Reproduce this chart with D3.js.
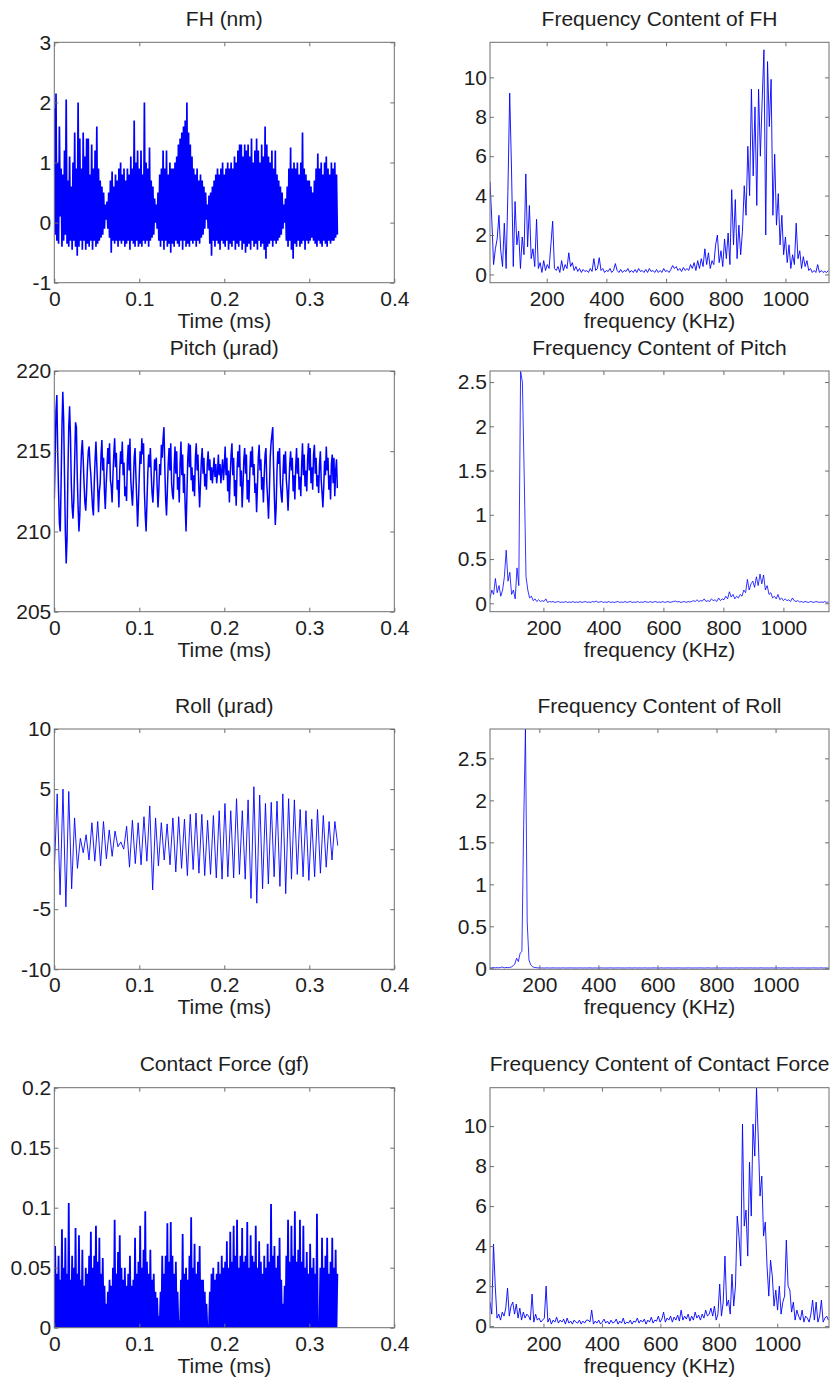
<!DOCTYPE html>
<html>
<head>
<meta charset="utf-8">
<script src="https://cdn.jsdelivr.net/npm/d3@7"></script>
<style>
  body { margin: 0; background: #fff; }
  svg { display: block; font-family: "Liberation Sans", Arial, sans-serif; }
  .box { fill: none; stroke: #6e6e6e; stroke-width: 1; }
  .axis line { stroke: #6e6e6e; }
  .axis path { display: none; }
  .axis text { font-size: 21px; fill: #1e1e1e; font-family: "Liberation Sans", Arial, sans-serif; }
  .label { font-size: 21px; fill: #1e1e1e; text-anchor: middle; }
  .trace { fill: none; stroke: #0000ff; stroke-linejoin: bevel; }
</style>
</head>
<body>
<svg id="chart" width="834" height="1381"></svg>
<script>
/* ---------- data ---------- */

const TIME_TICKS = [0, 0.1, 0.2, 0.3, 0.4];
const FREQ_TICKS = [200, 400, 600, 800, 1000];
const TIME_STEP = 0.001;          // ms between samples
const SPEC_STEP = 6;              // KHz between spectrum bins

// FH (nm)
const FH = [
  1.9,-0.2,2.15,-0.3,1.0,-0.35,1.6,0.1,0.9,-0.4,
  0.8,-0.3,1.2,-0.2,2.05,-0.35,0.7,-0.4,1.1,-0.3,
  0.6,-0.45,1.0,-0.3,1.5,-0.4,0.9,-0.55,2.0,-0.4,
  1.4,-0.3,0.9,-0.45,1.5,-0.3,1.1,-0.45,1.4,-0.35,
  1.4,-0.4,0.8,-0.3,1.3,-0.45,0.9,-0.3,1.2,-0.4,
  1.6,-0.35,0.9,-0.3,0.7,-0.25,0.6,-0.2,0.5,-0.1,
  0.3,0.05,0.35,-0.1,0.5,-0.25,0.7,-0.5,0.85,-0.3,
  0.6,-0.35,0.8,-0.3,0.7,-0.4,0.9,-0.3,1.0,-0.35,
  0.8,-0.3,0.9,-0.4,0.7,-0.35,0.9,-0.3,0.8,-0.45,
  1.1,-0.3,0.9,-0.35,1.7,-0.4,1.0,-0.3,1.2,-0.4,
  0.9,-0.35,1.2,-0.4,0.8,-0.3,2.0,-0.35,1.0,-0.3,
  0.9,-0.4,1.25,-0.3,0.7,-0.25,0.6,-0.2,0.4,0.0,
  0.3,-0.1,0.5,-0.3,0.8,-0.4,0.9,-0.3,1.2,-0.45,
  0.9,-0.3,1.2,-0.4,0.8,-0.35,1.0,-0.5,0.9,-0.35,
  0.9,-0.4,1.0,-0.3,1.1,-0.35,1.3,-0.4,1.4,-0.3,
  1.5,-0.45,1.6,-0.3,1.7,-0.4,2.0,-0.35,1.5,-0.4,
  1.3,-0.3,1.1,-0.35,0.9,-0.3,0.8,-0.4,0.9,-0.3,
  0.7,-0.35,0.8,-0.25,0.7,-0.2,0.6,-0.1,0.5,0.05,
  0.3,-0.1,0.45,-0.35,0.5,-0.55,0.6,-0.3,0.7,-0.4,
  0.8,-0.3,0.9,-0.35,0.8,-0.45,0.9,-0.3,1.0,-0.35,
  0.8,-0.4,0.9,-0.3,1.0,-0.45,0.9,-0.35,1.0,-0.4,
  0.9,-0.3,1.1,-0.45,1.0,-0.35,1.2,-0.4,1.3,-0.3,
  1.3,-0.45,1.1,-0.35,1.3,-0.5,1.2,-0.4,1.3,-0.35,
  1.1,-0.45,1.4,-0.3,1.0,-0.4,1.2,-0.35,1.4,-0.45,
  1.2,-0.3,1.0,-0.4,1.3,-0.35,1.1,-0.45,1.6,-0.6,
  1.3,-0.4,1.1,-0.35,1.0,-0.3,1.2,-0.4,0.9,-0.3,
  1.2,-0.35,0.8,-0.3,0.7,-0.25,0.6,-0.2,0.5,-0.1,
  0.3,0.0,0.4,-0.3,0.6,-0.4,0.9,-0.3,1.25,-0.45,
  0.9,-0.6,1.0,-0.35,0.9,-0.4,1.0,-0.3,0.8,-0.4,
  1.0,-0.35,1.5,-0.3,0.9,-0.45,0.8,-0.3,0.7,-0.35,
  0.7,-0.3,0.6,-0.25,0.5,-0.3,0.7,-0.35,0.9,-0.4,
  1.15,-0.3,0.9,-0.35,1.0,-0.4,0.8,-0.3,1.0,-0.35,
  1.1,-0.4,0.9,-0.3,0.8,-0.35,1.0,-0.3,0.9,-0.3,
  1.0,-0.25,0.8,-0.2
];

// Pitch (µrad)
const PITCH = [
  212.0,214.5,217.5,218.5,215.0,212.5,210.5,210.0,
  213.0,216.5,218.7,217.0,213.5,210.0,208.0,209.5,
  213.5,216.5,217.8,216.0,213.0,211.5,210.8,212.0,
  214.5,216.8,216.5,213.5,211.5,210.0,211.0,213.5,
  215.0,215.7,214.5,213.0,211.8,211.3,212.5,214.0,
  215.0,215.3,214.2,213.5,212.5,211.5,211.0,213.0,
  214.5,215.6,214.2,212.8,211.2,212.5,213.0,214.8,
  215.7,213.8,214.6,212.5,211.4,212.9,214.0,215.2,
  214.2,215.5,213.2,212.8,211.8,213.5,214.8,215.8,
  214.0,214.9,212.6,213.2,211.5,213.8,215.0,214.2,
  215.6,213.5,214.3,212.2,212.8,211.9,214.4,215.4,
  213.8,215.8,213.2,212.3,211.6,213.0,214.6,215.2,
  213.5,212.0,210.3,211.8,213.5,215.0,214.2,215.8,
  214.8,215.5,212.5,211.0,210.0,211.8,213.6,214.8,
  214.0,215.2,213.6,212.4,211.8,213.0,214.5,213.8,
  214.6,212.8,211.5,212.6,214.2,213.5,215.4,214.6,
  215.8,216.5,214.0,212.0,211.0,212.5,214.2,215.2,
  213.8,215.5,213.0,212.3,212.0,214.0,215.3,213.6,
  215.0,212.6,213.4,211.8,214.2,215.6,213.5,214.8,
  212.4,213.6,211.5,210.0,212.2,214.5,215.5,214.0,
  215.4,213.2,214.0,212.5,213.5,212.2,214.6,215.5,
  213.8,214.8,212.8,211.5,213.0,214.4,215.2,213.6,
  214.6,212.8,213.6,212.6,214.2,215.0,213.8,214.5,
  213.2,214.0,213.0,213.8,214.6,213.4,214.2,213.0,
  213.6,214.8,213.5,214.2,213.0,213.8,214.5,213.2,
  214.0,215.3,213.5,214.6,212.5,213.8,211.8,213.5,
  214.8,215.5,213.5,214.6,212.2,213.2,211.6,213.8,
  215.0,214.0,215.4,212.8,213.8,211.5,212.8,214.5,
  215.2,213.6,214.8,212.0,213.2,211.8,213.6,215.0,
  214.0,215.3,213.5,214.2,212.4,213.0,211.2,212.8,
  214.6,215.4,213.8,214.5,212.6,213.4,211.8,213.5,
  214.8,215.2,213.0,212.0,210.8,212.4,214.6,215.5,
  216.0,216.5,214.0,212.0,210.4,211.5,213.8,215.0,
  214.2,215.2,213.0,212.2,211.8,213.5,214.8,213.6,
  215.0,213.2,212.5,211.3,212.8,214.2,215.0,213.8,
  214.6,212.5,213.5,212.0,214.0,215.2,213.6,214.6,
  212.6,213.4,212.2,214.2,215.5,213.5,214.8,212.8,
  213.8,212.5,214.5,215.5,213.8,215.2,213.0,214.0,
  212.6,214.8,215.4,213.6,214.6,212.8,213.5,212.4,
  214.2,215.0,213.2,212.4,211.5,212.8,214.4,213.5,
  215.3,213.8,214.6,212.6,213.5,212.0,214.2,214.8,
  213.0,214.6,212.2,213.8,214.5,212.7
];

// Roll (µrad): successive troughs and crests
const ROLL_STEP = 0.3335 / 98;
const ROLL = [
  -1.8,4.6,-3.8,5.0,-4.8,4.8,-3.3,2.6,-1.6,0.9,
  -0.3,1.2,-0.9,2.2,-1.0,2.3,-1.4,2.3,-0.8,1.6,
  -0.6,1.5,0.2,0.6,0.0,1.9,-1.5,2.4,-1.2,2.2,
  -1.3,2.7,-1.0,3.6,-3.4,2.6,-1.4,2.2,-0.9,2.1,
  -1.3,2.6,-1.9,2.7,-1.6,2.5,-2.2,2.9,-1.7,3.0,
  -2.0,2.9,-2.2,2.4,-2.1,2.8,-2.4,3.2,-2.5,3.8,
  -2.3,3.2,-2.4,4.2,-2.1,3.2,-2.5,4.1,-4.1,5.2,
  -4.5,4.5,-3.3,3.8,-2.9,3.9,-2.3,4.0,-3.1,4.6,
  -3.7,4.2,-2.5,4.1,-2.1,3.3,-2.3,3.2,-2.6,2.5,
  -2.3,3.3,-2.0,2.8,-1.5,2.3,-0.9,2.3,0.3
];

// Contact Force (gf)
const FORCE = [
  0,0.068,0,0.045,0,0.06,0,0.04,0,0.082,0,0.05,0,0.075,0,0.045,0,0.104,0,0.04,
  0,0.06,0,0.05,0,0.083,0,0.045,0,0.077,0,0.04,0,0.065,0,0.035,0,0.05,0,0.045,
  0,0.06,0,0.08,0,0.05,0,0.06,0,0.085,0,0.055,0,0.075,0,0.045,0,0.058,0,0.035,
  0,0.02,0,0.03,0,0.04,0,0.035,0,0.05,0,0.09,0,0.045,0,0.063,0,0.077,0,0.05,
  0,0.04,0,0.05,0,0.035,0,0.045,0,0.06,0,0.035,0,0.04,0,0.075,0,0.045,0,0.055,
  0,0.085,0,0.05,0,0.065,0,0.097,0,0.055,0,0.045,0,0.065,0,0.04,0,0.045,0,0.03,
  0,0.025,0,0.01,0,0.03,0,0.06,0,0.045,0,0.06,0,0.087,0,0.055,0,0.088,0,0.06,
  0,0.045,0,0.055,0,0.03,0,0.006,0,0.04,0,0.078,0,0.045,0,0.05,0,0.04,0,0.06,
  0,0.092,0,0.05,0,0.07,0,0.045,0,0.055,0,0.068,0,0.04,0,0.04,0,0.03,0,0.02,
  0,0,0,0.03,0,0.045,0,0.05,0,0.04,0,0.045,0,0.055,0,0.045,0,0.06,0,0.05,
  0,0.055,0,0.072,0,0.05,0,0.08,0,0.055,0,0.085,0,0.06,0,0.09,0,0.05,0,0.06,
  0,0.083,0,0.055,0,0.06,0,0.088,0,0.05,0,0.077,0,0.06,0,0.055,0,0.085,0,0.05,
  0,0.072,0,0.055,0,0.045,0,0.06,0,0.05,0,0.07,0,0.055,0,0.103,0,0.06,0,0.068,
  0,0.05,0,0.06,0,0.075,0,0.04,0,0.02,0,0.035,0,0.06,0,0.09,0,0.055,0,0.085,
  0,0.06,0,0.097,0,0.055,0,0.065,0,0.09,0,0.055,0,0.085,0,0.05,0,0.063,0,0.045,
  0,0.07,0,0.05,0,0.058,0,0.045,0,0.095,0,0,0,0.05,0,0.075,0,0.05,0,0.06,
  0,0.075,0,0.045,0,0.055,0,0.075,0,0.05,0,0.065,0,0.045
];

// Frequency content of FH, bins from 10 KHz
const FH_SPEC_START = 10;
const FH_SPEC = [
  4.7,2.8,0.5,1.3,1.8,3.0,1.2,0.4,2.6,0.3,
  4.2,9.2,5.4,0.4,3.7,1.5,2.2,0.3,1.9,1.0,
  5.1,1.4,3.5,0.8,1.3,0.4,2.8,0.3,0.6,0.1,
  0.7,0.2,0.5,0.3,1.5,2.7,0.3,0.2,0.4,0.1,
  0.7,0.2,0.5,0.3,1.1,0.4,0.6,0.2,0.4,0.15,
  0.3,0.1,0.25,0.15,0.2,0.1,0.3,0.15,0.8,0.2,
  0.3,0.85,0.2,0.3,0.1,0.2,0.15,0.3,0.1,0.2,
  0.55,0.2,0.1,0.25,0.1,0.2,0.15,0.3,0.1,0.2,
  0.1,0.25,0.1,0.3,0.15,0.2,0.1,0.25,0.1,0.3,
  0.15,0.2,0.1,0.25,0.1,0.2,0.1,0.3,0.15,0.2,
  0.1,0.25,0.45,0.3,0.4,0.2,0.3,0.15,0.35,0.2,
  0.3,0.2,0.5,0.3,0.6,0.2,0.7,0.3,0.8,0.4,
  1.3,0.5,1.1,0.3,0.7,0.5,1.5,2.0,0.6,1.2,
  0.4,1.8,0.8,2.1,0.5,4.3,1.5,3.8,0.8,2.5,
  1.0,2.2,4.5,3.0,6.5,4.0,9.4,5.0,8.5,3.5,
  9.4,6.0,8.8,11.4,2.0,10.8,7.5,9.9,3.0,6.1,
  2.5,4.1,1.5,3.0,1.0,1.9,0.6,1.5,0.3,1.0,
  0.5,2.6,0.8,1.2,0.3,0.9,0.4,0.7,0.2,0.3,
  0.1,0.2,0.1,0.5,0.1,0.2,0.1,0.15,0.1,0.2
];

// Frequency content of Pitch, bins from 22 KHz
const PITCH_SPEC_START = 22;
const PITCH_SPEC = [
  0.05,0.15,0.1,0.28,0.12,0.2,0.08,0.15,0.3,0.6,
  0.25,0.35,0.1,0.15,0.05,0.4,0.2,2.62,2.5,1.45,
  0.3,0.15,0.06,0.08,0.03,0.05,0.02,0.04,0.02,0.03,
  0.02,0.05,0.01,0.02,0.015,0.02,0.01,0.015,0.02,0.01,
  0.015,0.01,0.02,0.01,0.015,0.01,0.02,0.01,0.015,0.01,
  0.02,0.01,0.015,0.02,0.01,0.015,0.01,0.02,0.015,0.025,
  0.01,0.015,0.02,0.01,0.015,0.01,0.02,0.01,0.015,0.01,
  0.015,0.02,0.01,0.015,0.01,0.02,0.01,0.015,0.02,0.01,
  0.015,0.01,0.02,0.01,0.015,0.01,0.02,0.015,0.01,0.02,
  0.01,0.015,0.02,0.01,0.015,0.01,0.02,0.01,0.015,0.02,
  0.01,0.015,0.02,0.025,0.015,0.02,0.01,0.015,0.02,0.01,
  0.02,0.015,0.02,0.03,0.02,0.04,0.02,0.03,0.025,0.05,
  0.02,0.03,0.02,0.05,0.03,0.04,0.02,0.06,0.03,0.05,
  0.04,0.08,0.05,0.13,0.07,0.1,0.05,0.08,0.06,0.1,
  0.08,0.15,0.12,0.27,0.15,0.22,0.25,0.18,0.3,0.2,
  0.33,0.22,0.32,0.15,0.2,0.1,0.12,0.06,0.08,0.05,
  0.1,0.04,0.06,0.03,0.05,0.03,0.04,0.02,0.06,0.03,
  0.02,0.03,0.015,0.02,0.01,0.02,0.015,0.01,0.02,0.015,
  0.01,0.02,0.015,0.01,0.015,0.01,0.02,0.01,0.015
];

// Frequency content of Roll, bins from 33 KHz
const ROLL_SPEC_START = 33;
const ROLL_SPEC = [
  0.005,0.005,0.01,0.005,0.008,0.005,0.01,0.015,0.005,0.01,
  0.008,0.01,0.015,0.03,0.05,0.12,0.08,0.18,0.2,1.7,
  2.85,0.55,0.1,0.04,0.02,0.01,0.008,0.005,0.005,0.004,
  0.004,0.003,0.005,0.004,0.003,0.004,0.005,0.003,0.004,0.004,
  0.003,0.005,0.004,0.003,0.004,0.004,0.005,0.003,0.004,0.003,
  0.004,0.005,0.003,0.004,0.004,0.003,0.005,0.004,0.003,0.004,
  0.004,0.003,0.004,0.005,0.003,0.004,0.003,0.004,0.005,0.004,
  0.003,0.004,0.004,0.005,0.003,0.004,0.003,0.004,0.004,0.005,
  0.003,0.004,0.005,0.003,0.004,0.004,0.003,0.005,0.004,0.003,
  0.004,0.003,0.005,0.004,0.004,0.003,0.004,0.005,0.003,0.004,
  0.004,0.005,0.003,0.004,0.003,0.004,0.004,0.005,0.003,0.004,
  0.003,0.004,0.005,0.004,0.003,0.004,0.004,0.003,0.005,0.004,
  0.004,0.003,0.004,0.005,0.004,0.003,0.004,0.003,0.005,0.004,
  0.003,0.004,0.004,0.005,0.003,0.004,0.004,0.003,0.004,0.005,
  0.004,0.003,0.005,0.004,0.003,0.004,0.004,0.005,0.003,0.004,
  0.004,0.003,0.004,0.005,0.004,0.003,0.004,0.004,0.003,0.005,
  0.003,0.004,0.004,0.005,0.003,0.004,0.005,0.004,0.003,0.004,
  0.004,0.005,0.003,0.004,0.004,0.003,0.005,0.004,0.004,0.003,
  0.004,0.003,0.005,0.004,0.004,0.003,0.004,0.005,0.003,0.004,
  0.004,0.004
];

// Frequency content of Contact Force, bins from 17 KHz
const FORCE_SPEC_START = 17;
const FORCE_SPEC = [
  1.2,0.6,4.1,2.0,0.4,0.6,0.3,0.7,0.5,0.9,
  1.9,0.5,1.0,1.2,0.6,1.1,0.4,0.9,0.3,0.7,
  0.4,0.6,0.5,0.3,1.6,0.2,0.6,0.3,0.4,0.2,
  0.3,0.4,2.0,0.2,0.4,0.1,0.3,0.2,0.45,0.15,
  0.3,0.2,0.35,0.1,0.4,0.15,0.25,0.1,0.3,0.2,
  0.15,0.3,0.1,0.25,0.15,0.3,0.3,0.2,0.8,0.1,
  0.25,0.15,0.3,0.1,0.2,0.35,0.15,0.25,0.1,0.3,
  0.15,0.2,0.35,0.1,0.25,0.15,0.4,0.1,0.2,0.15,
  0.3,0.1,0.25,0.2,0.4,0.15,0.3,0.2,0.35,0.1,
  0.3,0.2,0.45,0.15,0.3,0.25,0.5,0.2,0.35,0.7,
  0.2,0.4,0.3,0.5,0.2,0.45,0.3,0.55,0.25,0.8,
  0.3,0.5,0.35,0.6,0.25,0.5,0.3,0.7,0.4,0.55,
  0.3,0.6,0.4,0.8,0.5,0.6,0.9,0.5,1.0,0.3,
  0.6,2.1,0.5,1.2,3.5,1.0,1.3,0.6,2.6,1.0,
  2.0,5.5,4.5,3.0,10.1,5.0,5.8,3.5,8.2,5.5,
  10.1,8.5,11.9,9.4,6.5,7.5,4.5,5.2,3.0,1.5,
  3.3,2.5,1.0,1.8,0.8,2.0,0.6,1.2,1.5,4.3,
  2.0,1.8,0.7,1.2,0.3,0.8,0.5,0.3,0.8,0.2,
  0.5,0.4,0.2,0.6,1.3,0.3,1.2,0.2,0.5,1.3,
  0.2,0.4,0.5,0.3
];

/* ---------- layout ---------- */

const COLS = [[54.3, 394.3], [490, 829]];
const ROWS = [[42.3, 282.7], [371, 611.7], [729, 969.3], [1087.7, 1327.7]];
const TICK = 4;

const panels = [
  { row: 0, col: 0, title: 'FH (nm)', xlabel: 'Time (ms)', values: FH, start: 0, step: TIME_STEP,
    xDomain: [0, 0.4], xTicks: TIME_TICKS, yDomain: [-1, 3], yTicks: [-1, 0, 1, 2, 3], lw: 1.7 },
  { row: 0, col: 1, title: 'Frequency Content of FH', xlabel: 'frequency (KHz)', values: FH_SPEC,
    start: FH_SPEC_START, step: SPEC_STEP, xDomain: [10, 1146], xTicks: FREQ_TICKS,
    yDomain: [-0.42, 11.78], yTicks: [0, 2, 4, 6, 8, 10], lw: 0.9 },
  { row: 1, col: 0, title: 'Pitch (\u03bcrad)', xlabel: 'Time (ms)', values: PITCH, start: 0, step: TIME_STEP,
    xDomain: [0, 0.4], xTicks: TIME_TICKS, yDomain: [205, 220], yTicks: [205, 210, 215, 220], lw: 1.5 },
  { row: 1, col: 1, title: 'Frequency Content of Pitch', xlabel: 'frequency (KHz)', values: PITCH_SPEC,
    start: PITCH_SPEC_START, step: SPEC_STEP, xDomain: [22, 1152], xTicks: FREQ_TICKS,
    yDomain: [-0.095, 2.625], yTicks: [0, 0.5, 1, 1.5, 2, 2.5], lw: 0.8 },
  { row: 2, col: 0, title: 'Roll (\u03bcrad)', xlabel: 'Time (ms)', values: ROLL, start: 0, step: ROLL_STEP,
    xDomain: [0, 0.4], xTicks: TIME_TICKS, yDomain: [-10, 10], yTicks: [-10, -5, 0, 5, 10], lw: 0.9 },
  { row: 2, col: 1, title: 'Frequency Content of Roll', xlabel: 'frequency (KHz)', values: ROLL_SPEC,
    start: ROLL_SPEC_START, step: SPEC_STEP, xDomain: [33, 1181], xTicks: FREQ_TICKS,
    yDomain: [-0.012, 2.85], yTicks: [0, 0.5, 1, 1.5, 2, 2.5], lw: 0.8 },
  { row: 3, col: 0, title: 'Contact Force (gf)', xlabel: 'Time (ms)', values: FORCE, start: 0, step: TIME_STEP,
    xDomain: [0, 0.4], xTicks: TIME_TICKS, yDomain: [0, 0.2], yTicks: [0, 0.05, 0.1, 0.15, 0.2], lw: 1.8 },
  { row: 3, col: 1, title: 'Frequency Content of Contact Force', xlabel: 'frequency (KHz)', values: FORCE_SPEC,
    start: FORCE_SPEC_START, step: SPEC_STEP, xDomain: [17, 1177], xTicks: FREQ_TICKS,
    yDomain: [-0.08, 11.92], yTicks: [0, 2, 4, 6, 8, 10], lw: 0.9 }
];

/* ---------- drawing ---------- */

const svg = d3.select('#chart');
svg.append('rect').attr('width', 834).attr('height', 1381).attr('fill', '#fff');

function drawPanel(p, idx) {
  const [x0, x1] = COLS[p.col];
  const [y0, y1] = ROWS[p.row];
  const W = x1 - x0, H = y1 - y0;
  const g = svg.append('g').attr('transform', `translate(${x0},${y0})`);

  const x = d3.scaleLinear().domain(p.xDomain).range([0, W]);
  const y = d3.scaleLinear().domain(p.yDomain).range([H, 0]);

  svg.append('clipPath').attr('id', `clip-${idx}`)
    .append('rect').attr('width', W).attr('height', H);

  const pts = p.values.map((v, i) => [p.start + i * p.step, v]);
  const line = d3.line().x(d => x(d[0])).y(d => y(d[1]));

  g.append('path')
    .datum(pts)
    .attr('class', 'trace')
    .attr('stroke-width', p.lw)
    .attr('clip-path', `url(#clip-${idx})`)
    .attr('d', line);

  const fmt = d => String(d);

  g.append('g').attr('class', 'axis')
    .attr('transform', `translate(0,${H})`)
    .call(d3.axisBottom(x).tickValues(p.xTicks).tickFormat(fmt).tickSizeInner(-TICK).tickSizeOuter(0).tickPadding(8));
  g.append('g').attr('class', 'axis')
    .call(d3.axisTop(x).tickValues(p.xTicks).tickFormat('').tickSizeInner(-TICK).tickSizeOuter(0));
  g.append('g').attr('class', 'axis')
    .call(d3.axisLeft(y).tickValues(p.yTicks).tickFormat(fmt).tickSizeInner(-TICK).tickSizeOuter(0).tickPadding(3));
  g.append('g').attr('class', 'axis')
    .attr('transform', `translate(${W},0)`)
    .call(d3.axisRight(y).tickValues(p.yTicks).tickFormat('').tickSizeInner(-TICK).tickSizeOuter(0));

  g.selectAll('.axis').attr('font-size', null).attr('font-family', null);

  g.append('rect').attr('class', 'box').attr('width', W).attr('height', H);

  g.append('text').attr('class', 'label')
    .attr('x', W / 2).attr('y', -16.5)
    .text(p.title);
  g.append('text').attr('class', 'label')
    .attr('x', W / 2).attr('y', H + 45)
    .text(p.xlabel);
}

panels.forEach(drawPanel);
</script>
</body>
</html>
